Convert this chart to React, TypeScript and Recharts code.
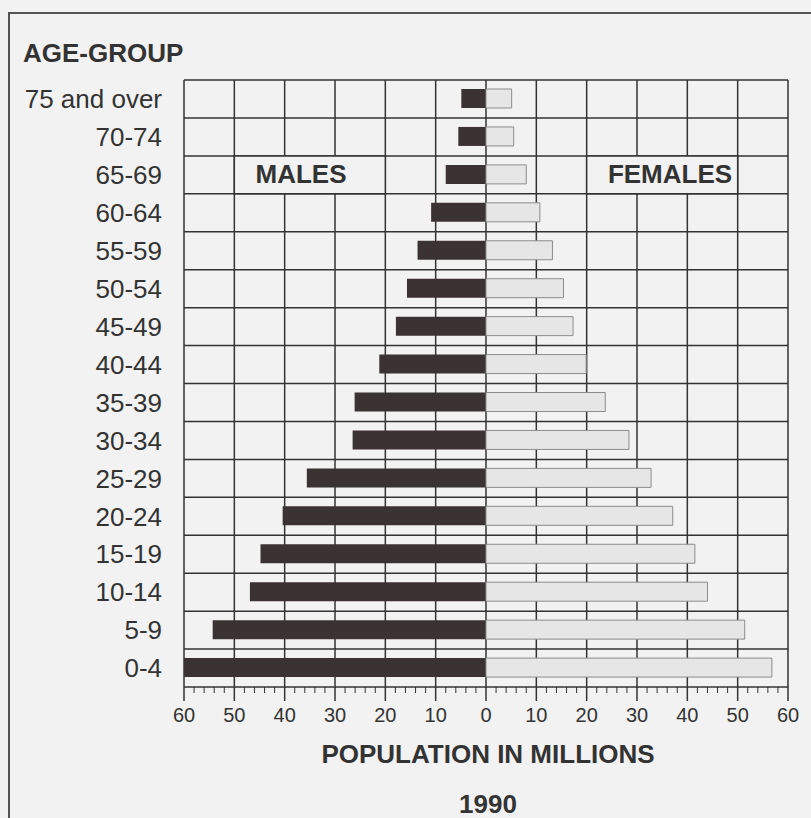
import React from 'react'
import { BarChart, Bar, XAxis, YAxis, CartesianGrid, ReferenceArea } from 'recharts'

const AGE_GROUPS = [
  '75 and over', '70-74', '65-69', '60-64', '55-59', '50-54', '45-49', '40-44',
  '35-39', '30-34', '25-29', '20-24', '15-19', '10-14', '5-9', '0-4',
]
// millions, same order as AGE_GROUPS
const MALES = [4.9, 5.5, 8.0, 10.9, 13.6, 15.7, 17.9, 21.2, 26.1, 26.5, 35.6, 40.4, 44.8, 46.9, 54.3, 60]
const FEMALES = [5.1, 5.5, 8.0, 10.7, 13.2, 15.4, 17.3, 19.9, 23.7, 28.4, 32.8, 37.1, 41.5, 44.0, 51.4, 56.8]
const MAJOR_TICKS = [-60, -50, -40, -30, -20, -10, 0, 10, 20, 30, 40, 50, 60]
const MINOR_TICKS = Array.from({ length: 61 }, (_, i) => -60 + i * 2)

const FONT = '"Liberation Sans", Arial, Helvetica, sans-serif'
const INK = '#333'
const BG = '#f2f2f2'
const TICK_SIZE = 14
const TICK_MARGIN = 7

const rows = AGE_GROUPS.map((age, i) => ({ age, male: -MALES[i], female: FEMALES[i] }))

function XTick(props: any) {
  const { x, y, payload } = props
  const v = payload.value as number
  const major = v % 10 === 0
  const y0 = y - TICK_SIZE - TICK_MARGIN
  return (
    <g>
      <line x1={x} x2={x} y1={y0} y2={y0 + (major ? TICK_SIZE : 6)} stroke={INK} strokeWidth={major ? 1.5 : 1} />
      {major && (
        <text x={x} y={y} dy="0.71em" textAnchor="middle" fontSize={20} fontFamily={FONT} fill={INK}>
          {Math.abs(v)}
        </text>
      )}
    </g>
  )
}

export default function App() {
  return (
    <div style={{ position: 'absolute', left: 0, top: 0, width: 811, height: 818, background: BG, fontFamily: FONT }}>
      <BarChart
        layout="vertical"
        width={811}
        height={818}
        data={rows}
        stackOffset="sign"
        margin={{ top: 80, right: 23, bottom: 91, left: 0 }}
      >
        <CartesianGrid
          stroke={INK}
          strokeWidth={1.5}
          horizontalCoordinatesGenerator={({ offset }: any) =>
            [...AGE_GROUPS, ''].map((_, i) => offset.top + (i * offset.height) / AGE_GROUPS.length)
          }
          verticalCoordinatesGenerator={({ offset }: any) =>
            MAJOR_TICKS.map((v) => offset.left + ((v + 60) / 120) * offset.width)
          }
        />
        <XAxis
          type="number"
          domain={[-60, 60]}
          ticks={MINOR_TICKS}
          interval={0}
          height={40}
          axisLine={false}
          tickLine={false}
          tickSize={TICK_SIZE}
          tickMargin={TICK_MARGIN}
          tick={<XTick />}
        />
        <YAxis
          type="category"
          dataKey="age"
          width={184}
          axisLine={false}
          tickLine={false}
          tickSize={0}
          tickMargin={22}
          interval={0}
          tick={{ fill: INK, fontSize: 26, fontFamily: FONT }}
        />
        <ReferenceArea x1={-50} x2={-20} y1="65-69" y2="65-69" fill={BG} fillOpacity={1} stroke={INK} strokeWidth={1.5} />
        <ReferenceArea x1={20} x2={50} y1="65-69" y2="65-69" fill={BG} fillOpacity={1} stroke={INK} strokeWidth={1.5} />
        <Bar dataKey="male" stackId="p" fill="#3a3233" barSize={19} isAnimationActive={false} />
        <Bar dataKey="female" stackId="p" fill="#e6e6e6" stroke="#8c8c8c" strokeWidth={1} barSize={19} isAnimationActive={false} />
      </BarChart>
      <svg width={811} height={818} style={{ position: 'absolute', left: 0, top: 0, pointerEvents: 'none' }}>
        <path d="M9 818 L9 13 L811 13" fill="none" stroke="#555" strokeWidth={2} />
        <g fontFamily={FONT} fontWeight="bold" fontSize={26} fill={INK}>
          <text x={23} y={62}>AGE-GROUP</text>
          <text x={301} y={183} textAnchor="middle">MALES</text>
          <text x={670} y={183} textAnchor="middle">FEMALES</text>
          <text x={488} y={763} textAnchor="middle">POPULATION IN MILLIONS</text>
          <text x={488} y={813} textAnchor="middle">1990</text>
        </g>
      </svg>
    </div>
  )
}
